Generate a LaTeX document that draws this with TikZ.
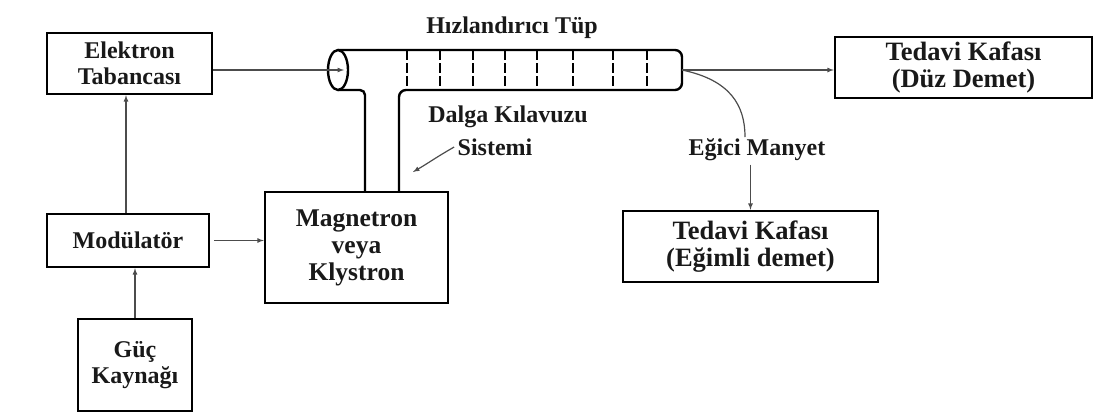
\documentclass[tikz,border=0pt]{standalone}
\usepackage{fontspec}
\setmainfont{Liberation Serif}
\usetikzlibrary{arrows, math, positioning}

\begin{document}
\begin{tikzpicture}[x=1pt, y=-1pt,
  blok/.style={draw, line width=2.4pt, align=center, inner sep=0pt},
  yazi/.style={font=\bfseries\fontsize{24}{26.5}\selectfont, text=black!90},
  buyuk/.style={font=\bfseries\fontsize{26.5}{26.5}\selectfont},
  ok/.style={-latex, line width=1.2pt, draw=black!70},
  tup/.style={line width=2.4pt}]
\tikzmath{
\yt=50; \yb=90; \ym=70;
\xl=338; \xr=682;
\wgL=365; \wgR=399;
}
\useasboundingbox (0,0) rectangle (1097,416);

% bloklar
\node[blok, yazi, minimum width=165, minimum height=61] (elektron) at (129.5,63.5) {Elektron\\Tabancası};
\node[blok, yazi, minimum width=162, minimum height=53] (modulator) at (128,240.5) {Modülatör};
\node[blok, yazi, minimum width=114, minimum height=92] (guc) at (135,365) {Güç\\Kaynağı};
\node[blok, yazi, font=\bfseries\fontsize{25.5}{27}\selectfont, minimum width=183, minimum height=111] (magnetron) at (356.5,247.5) {Magnetron\\veya\\Klystron};
\node[blok, yazi, buyuk, minimum width=257, minimum height=61] (duz) at (963.5,67.5) {Tedavi Kafası\\(Düz Demet)};
\node[blok, yazi, buyuk, minimum width=255, minimum height=71] (egim) at (750.5,246.5) {Tedavi Kafası\\(Eğimli demet)};

% etiketler
\node[yazi] (tupyazi) at (512,28) {Hızlandırıcı Tüp};
\node[yazi] (dalga) at (508,117) {Dalga Kılavuzu};
\node[yazi] (sistemi) at (495,147) {Sistemi};
\node[yazi] (egici) at (757,150) {Eğici Manyet};

% tup ve dalga kilavuzu
\draw[tup] (\xl,\ym) ellipse [x radius=10, y radius=20];
\draw[tup, rounded corners=7pt] (\wgR,192) -- (\wgR,\yb) -- (\xr,\yb) -- (\xr,\yt) -- (\xl,\yt);
\draw[tup, rounded corners=5pt] (\xl,\yb) -- (\wgL,\yb) -- (\wgL,192);
\foreach \x in {407,440,473,505,537,573,613,647}
  \draw[line width=1.6pt, dash pattern=on 10pt off 3pt] (\x,\yt) -- (\x,\yb);

\coordinate (giris) at (344,\ym);
\coordinate (cikis) at (\xr,\ym);
\coordinate (bukum) at (745,137);
\coordinate (dalgaucu) at (413,172);

% oklar
\draw[ok] (giris -| elektron.east) -- (giris);
\draw[ok] (modulator.north -| 126,0) -- (elektron.south -| 126,0);
\draw[ok] (guc.north) -- (guc.north |- modulator.south);
\draw[ok, shorten <=4pt] (modulator.east) -- (modulator.east -| magnetron.west);
\draw[ok] (cikis) -- (cikis -| duz.west);
\draw[line width=1.2pt, draw=black!70] (cikis) .. controls (730,80) and (745,105) .. (bukum);
\draw[ok] (egici.south -| egim.north) -- (egim.north);
\draw[ok] (sistemi.west) .. controls (435,158) and (430,162) .. (dalgaucu);
\end{tikzpicture}
\end{document}
